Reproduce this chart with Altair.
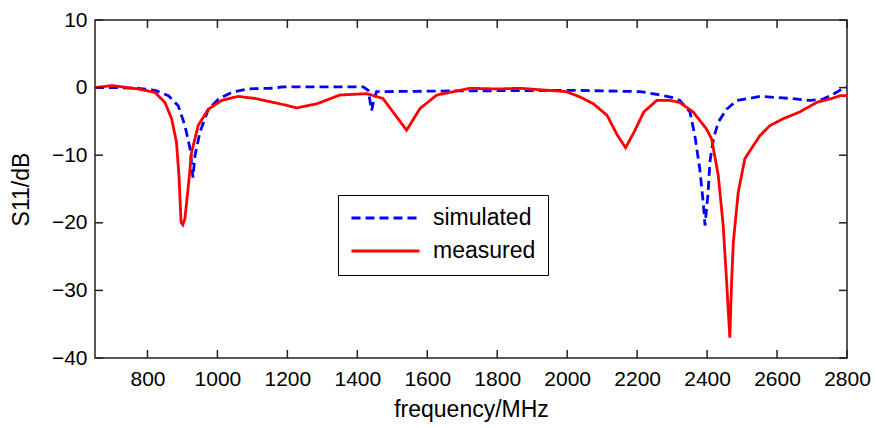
import altair as alt
import pandas as pd

# ---- data ----
freq_meas = [650, 699, 773, 821, 850, 869, 883, 890, 896, 901, 907, 917, 926, 945, 974,
             1012, 1059, 1107, 1179, 1227, 1284, 1350, 1427, 1473, 1502, 1541, 1579, 1627,
             1665, 1722, 1800, 1865, 1998, 2037, 2075, 2114, 2143, 2167, 2191, 2219, 2256,
             2294, 2322, 2360, 2398, 2413, 2432, 2446, 2456, 2465, 2470, 2475, 2489, 2508,
             2532, 2551, 2580, 2618, 2665, 2713, 2751, 2780, 2800]
s11_meas = [0.0, 0.3, -0.2, -0.7, -2.2, -4.6, -8.1, -13.0, -19.9, -20.3, -19.4, -14.5, -9.6,
            -5.6, -3.2, -1.9, -1.3, -1.6, -2.4, -3.0, -2.4, -1.1, -0.9, -1.6, -3.6, -6.3,
            -3.1, -1.1, -0.7, -0.1, -0.2, -0.1, -0.6, -1.4, -2.4, -4.1, -7.0, -8.9, -6.6,
            -3.6, -1.9, -1.9, -2.2, -3.6, -6.1, -7.6, -13.0, -20.4, -28.8, -37.0, -28.8,
            -22.9, -15.5, -10.5, -8.6, -7.1, -5.6, -4.6, -3.6, -2.2, -1.7, -1.2, -1.2]

freq_sim = [650, 707, 774, 822, 860, 888, 907, 922, 930, 936, 950, 974, 1003, 1041, 1088,
            1150, 1188, 1417, 1431, 1436, 1441, 1448, 1455, 1665, 2018, 2114, 2210, 2256,
            2303, 2322, 2351, 2365, 2379, 2389, 2394, 2403, 2408, 2418, 2432, 2456, 2485,
            2522, 2551, 2637, 2694, 2732, 2770, 2789, 2800]
s11_sim = [0.0, 0.0, -0.1, -0.4, -1.2, -2.7, -5.6, -9.1, -13.3, -10.0, -6.6, -3.2, -1.7,
           -0.7, -0.2, -0.1, 0.1, 0.1, -0.4, -1.9, -3.4, -1.6, -0.6, -0.5, -0.4, -0.5, -0.6,
           -1.0, -1.5, -1.9, -3.6, -7.1, -12.0, -17.0, -20.4, -15.5, -11.0, -7.6, -5.1, -3.2,
           -1.9, -1.6, -1.3, -1.6, -1.9, -1.7, -0.7, -0.1, 0.05]

series_names = ["simulated", "measured"]
series_colors = ["#0000ff", "#ff0000"]
x_ticks = [800, 1000, 1200, 1400, 1600, 1800, 2000, 2200, 2400, 2600, 2800]
y_ticks = [-40, -30, -20, -10, 0, 10]
x_domain = [650, 2800]
y_domain = [-40, 10]

rows = []
for f, v in zip(freq_sim, s11_sim):
    rows.append({"freq": f, "s11": v, "series": "simulated", "k": 0})
for f, v in zip(freq_meas, s11_meas):
    rows.append({"freq": f, "s11": v, "series": "measured", "k": 1})
df = pd.DataFrame(rows)

W, H = 752, 338
TICK = 8
FONT = "Liberation Sans"

xs = alt.Scale(domain=x_domain, nice=False, zero=False)
ys = alt.Scale(domain=y_domain, nice=False, zero=False)

legend = alt.Legend(
    title=None, orient="none", legendX=243, legendY=175, direction="vertical",
    symbolType="stroke", symbolSize=4624, symbolStrokeWidth=2.8,
    labelFont=FONT, labelFontSize=23, labelColor="black", labelOffset=12,
    strokeColor="black", fillColor="white", padding=12, rowPadding=10,
    clipHeight=22, cornerRadius=0,
)

lines = alt.Chart(df).mark_line(strokeWidth=2.8, clip=True).encode(
    x=alt.X("freq:Q", scale=xs, axis=alt.Axis(
        title="frequency/MHz", values=x_ticks, format="d", ticks=False, domain=False,
        grid=False, labelFont=FONT, labelFontSize=21, labelColor="black", labelPadding=10,
        titleFont=FONT, titleFontSize=23, titleFontWeight="normal", titleColor="black",
        titlePadding=9, labelFlush=False, labelOverlap=False)),
    y=alt.Y("s11:Q", scale=ys, axis=alt.Axis(
        title="S11/dB", values=y_ticks, format="d", ticks=False, domain=False, grid=False,
        labelFont=FONT, labelFontSize=21, labelColor="black", labelPadding=8,
        titleFont=FONT, titleFontSize=23, titleFontWeight="normal", titleColor="black",
        titlePadding=18, labelFlush=False, labelOverlap=False)),
    color=alt.Color("series:N", scale=alt.Scale(domain=series_names, range=series_colors),
                    legend=legend),
    strokeDash=alt.StrokeDash("series:N", scale=alt.Scale(domain=series_names,
                                                          range=[[9, 5], [1, 0]]),
                              legend=legend),
    detail="k:O",
)

xt = pd.DataFrame({"t": x_ticks})
yt = pd.DataFrame({"t": y_ticks})

tick_style = dict(color="#222222", strokeWidth=1.5)
xtick_bottom = alt.Chart(xt).mark_rule(**tick_style).encode(
    x=alt.X("t:Q", scale=xs), y=alt.value(H), y2=alt.value(H - TICK))
xtick_top = alt.Chart(xt).mark_rule(**tick_style).encode(
    x=alt.X("t:Q", scale=xs), y=alt.value(0), y2=alt.value(TICK))
ytick_left = alt.Chart(yt).mark_rule(**tick_style).encode(
    y=alt.Y("t:Q", scale=ys), x=alt.value(0), x2=alt.value(TICK))
ytick_right = alt.Chart(yt).mark_rule(**tick_style).encode(
    y=alt.Y("t:Q", scale=ys), x=alt.value(W), x2=alt.value(W - TICK))

chart = alt.layer(lines, xtick_bottom, xtick_top, ytick_left, ytick_right).properties(
    width=W, height=H,
    padding={"left": 95, "top": 20, "right": 30, "bottom": 70},
    autosize=alt.AutoSizeParams(type="none"),
    background="white",
).configure_view(stroke="#222222", strokeWidth=1.5)

chart.save("out.html", embed_options={"renderer": "svg", "actions": False})
